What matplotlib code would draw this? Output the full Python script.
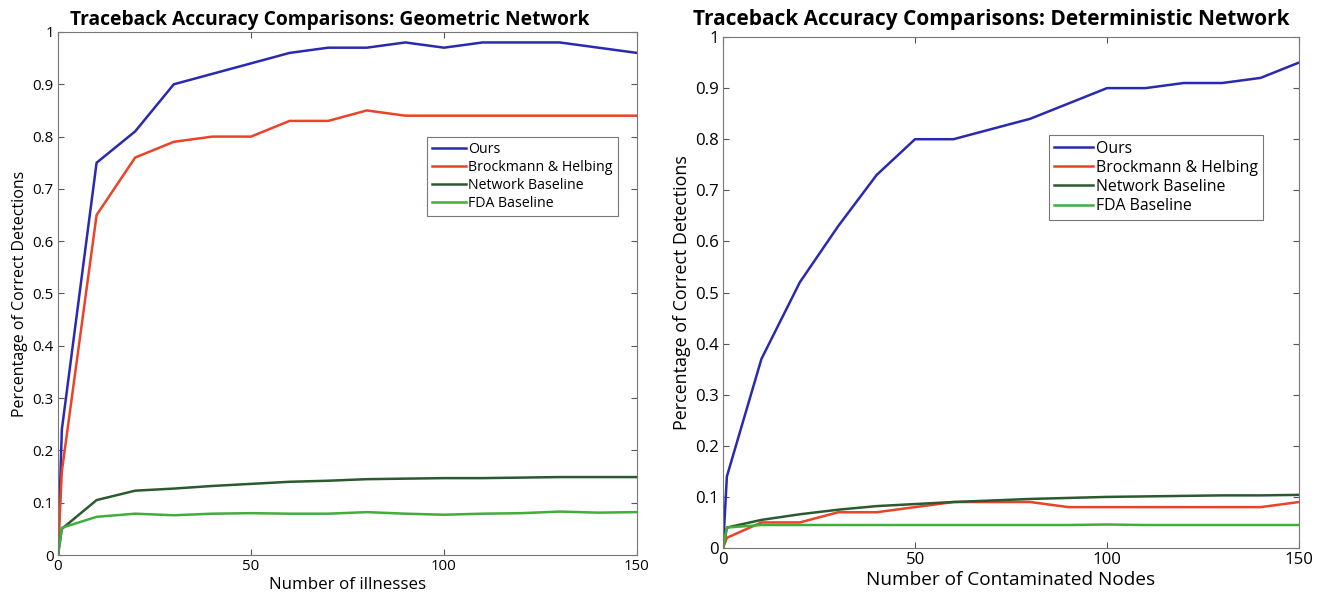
import matplotlib
matplotlib.use("Agg")
import matplotlib.pyplot as plt

# dados
x = [0, 1, 10, 20, 30, 40, 50, 60, 70, 80, 90, 100, 110, 120, 130, 140, 150]

geo_ours = [0, 0.24, 0.75, 0.81, 0.90, 0.92, 0.94, 0.96, 0.97, 0.97, 0.98, 0.97, 0.98, 0.98, 0.98, 0.97, 0.96]
geo_brock = [0, 0.16, 0.65, 0.76, 0.79, 0.80, 0.80, 0.83, 0.83, 0.85, 0.84, 0.84, 0.84, 0.84, 0.84, 0.84, 0.84]
geo_net = [0, 0.05, 0.105, 0.123, 0.127, 0.132, 0.136, 0.140, 0.142, 0.145, 0.146, 0.147, 0.147, 0.148, 0.149, 0.149, 0.149]
geo_fda = [0, 0.052, 0.073, 0.079, 0.076, 0.079, 0.080, 0.079, 0.079, 0.082, 0.079, 0.077, 0.079, 0.080, 0.083, 0.081, 0.082]

det_ours = [0, 0.14, 0.37, 0.52, 0.63, 0.73, 0.80, 0.80, 0.82, 0.84, 0.87, 0.90, 0.90, 0.91, 0.91, 0.92, 0.95]
det_brock = [0, 0.02, 0.05, 0.05, 0.07, 0.07, 0.08, 0.09, 0.09, 0.09, 0.08, 0.08, 0.08, 0.08, 0.08, 0.08, 0.09]
det_net = [0, 0.04, 0.055, 0.066, 0.075, 0.082, 0.086, 0.090, 0.093, 0.096, 0.098, 0.100, 0.101, 0.102, 0.103, 0.103, 0.104]
det_fda = [0, 0.04, 0.045, 0.045, 0.045, 0.045, 0.045, 0.045, 0.045, 0.045, 0.045, 0.046, 0.045, 0.045, 0.045, 0.045, 0.045]

labels = ["Ours", "Brockmann & Helbing", "Network Baseline", "FDA Baseline"]
colors = ["#2a2ab0", "#ea4328", "#2c5a30", "#3fae3a"]

yticks = [0, 0.1, 0.2, 0.3, 0.4, 0.5, 0.6, 0.7, 0.8, 0.9, 1]
ytick_labels = ["0", "0.1", "0.2", "0.3", "0.4", "0.5", "0.6", "0.7", "0.8", "0.9", "1"]
xticks = [0, 50, 100, 150]

plt.rcParams['font.family'] = ['Open Sans', 'DejaVu Sans']

fig = plt.figure(figsize=(13.24, 5.98), dpi=100)
ax1 = fig.add_axes([0.0438, 0.0719, 0.4373, 0.8746])
ax2 = fig.add_axes([0.5461, 0.0836, 0.4350, 0.8545])


def draw(ax, series, title, xlabel, leg_anchor, k, title_size, title_x, title_pad):
    # k: fator de escala do texto (o painel direito foi ampliado no original)
    for ys, lab, c in zip(series, labels, colors):
        ax.plot(x, ys, color=c, lw=1.8, label=lab)
    ax.set_xlim(0, 150)
    ax.set_ylim(0, 1)
    ax.set_xticks(xticks)
    ax.set_xticklabels([str(t) for t in xticks])
    ax.set_yticks(yticks)
    ax.set_yticklabels(ytick_labels)
    ax.tick_params(direction='in', top=True, right=True, labelsize=10.8 * k,
                   length=4, color='#555555', pad=3)
    for s in ax.spines.values():
        s.set_color('#777777')
        s.set_linewidth(0.8)
    ax.set_title(title, fontsize=title_size, fontweight='bold', pad=title_pad, x=title_x)
    ax.set_xlabel(xlabel, fontsize=12.2 * k, labelpad=2)
    ax.set_ylabel("Percentage of Correct Detections", fontsize=11.5 * k, labelpad=3)
    leg = ax.legend(loc='upper right', bbox_to_anchor=leg_anchor, fontsize=10.2 * k,
                    fancybox=False, handlelength=2.4, handletextpad=0.2,
                    labelspacing=0.2, borderpad=0.35, borderaxespad=0)
    leg.get_frame().set_edgecolor('#555555')
    leg.get_frame().set_linewidth(0.8)


draw(ax1, [geo_ours, geo_brock, geo_net, geo_fda],
     "Traceback Accuracy Comparisons: Geometric Network", "Number of illnesses",
     (0.967, 0.799), 1.0, 13.9, 0.469, 5)
draw(ax2, [det_ours, det_brock, det_net, det_fda],
     "Traceback Accuracy Comparisons: Deterministic Network", "Number of Contaminated Nodes",
     (0.938, 0.808), 1.12, 15.0, 0.465, 9)

fig.savefig("out.png", dpi=100)
